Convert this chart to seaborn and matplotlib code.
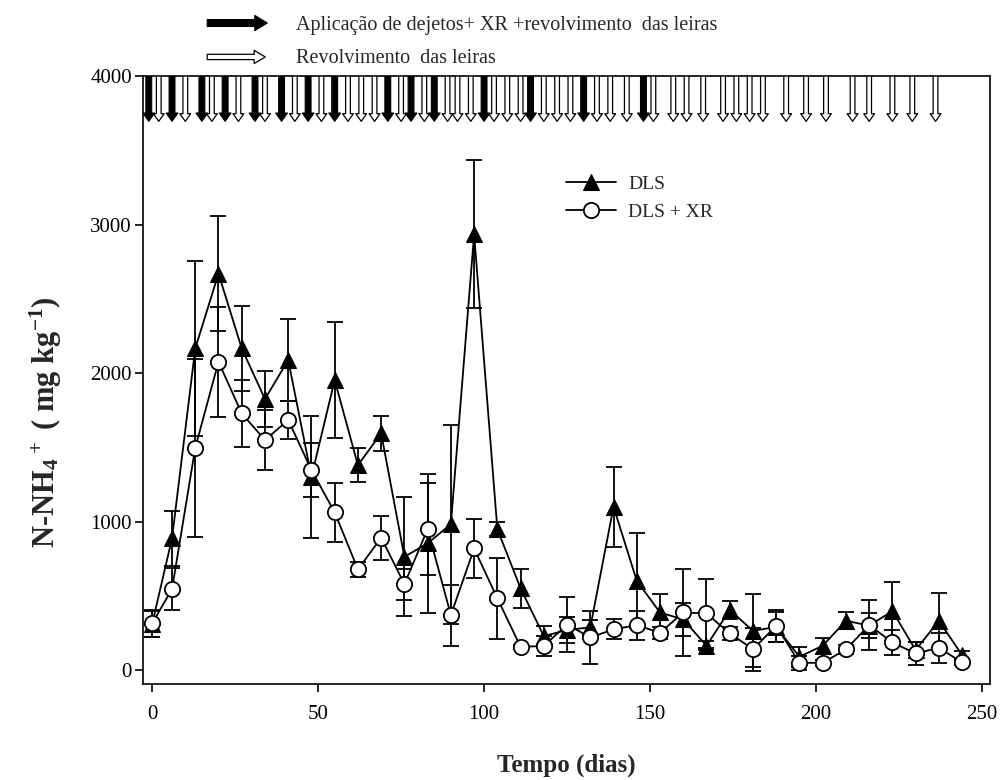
import numpy as np
import pandas as pd
import matplotlib.pyplot as plt
import seaborn as sns
from matplotlib.patches import FancyArrowPatch

# sampling days and N-NH4+ means / errors
days = [0, 6, 13, 20, 27, 34, 41, 48, 55, 62, 69, 76, 83, 90, 97, 104, 111, 118,
        125, 132, 139, 146, 153, 160, 167, 174, 181, 188, 195, 202, 209, 216, 223, 230, 237, 244]
dls = [310, 887, 2166, 2670, 2166, 1825, 2088, 1302, 1953, 1380, 1594, 763, 853, 983, 2935, 949, 550, 229,
       270, 288, 1100, 601, 388, 341, 164, 404, 265, 290, 90, 164, 332, 300, 397, 135, 332, 101]
dls_err = [85, 185, 590, 390, 285, 190, 275, 410, 390, 115, 120, 400, 470, 670, 500, 45, 130, 65,
           85, 50, 270, 320, 124, 110, 30, 60, 245, 100, 67, 55, 57, 85, 198, 56, 184, 30]
dls_xr = [314, 545, 1497, 2076, 1728, 1549, 1684, 1347, 1062, 678, 891, 579, 949, 370, 819, 483, 157, 162,
          307, 220, 274, 303, 251, 388, 382, 247, 141, 298, 49, 49, 139, 303, 186, 112, 150, 52]
dls_xr_err = [90, 140, 600, 370, 225, 205, 130, 180, 200, 50, 148, 105, 310, 205, 196, 275, 15, 70,
              185, 180, 67, 97, 40, 292, 230, 45, 145, 110, 45, 20, 30, 170, 85, 78, 100, 20]

# days of manure application (black arrows) and of pile turning only (white arrows)
aplicacao = [-1, 6, 15, 22, 31, 39, 47, 55, 71, 78, 85, 100, 114, 130, 148]
revolvimento = [2, 10, 18, 26, 34, 43, 51, 59, 63, 67, 75, 82, 89, 92, 96, 103, 107, 111, 118, 122,
                126, 134, 138, 143, 151, 157, 161, 166, 172, 176, 180, 184, 191, 197, 203, 211, 216,
                223, 229, 236]

sns.set_style('ticks')
plt.rcParams['font.family'] = ['Liberation Serif', 'DejaVu Serif']
plt.rcParams['mathtext.fontset'] = 'custom'
plt.rcParams['mathtext.rm'] = 'Liberation Serif:bold'
plt.rcParams['mathtext.bf'] = 'Liberation Serif:bold'
plt.rcParams['mathtext.default'] = 'bf'

df = pd.DataFrame({'dia': days, 'DLS': dls, 'DLS + XR': dls_xr})

fig = plt.figure(figsize=(10.01, 7.8), dpi=100)
ax = fig.add_axes([0.143, 0.123, 0.846, 0.7795])

# error bars first, markers on top
ax.errorbar(df['dia'], df['DLS'], yerr=dls_err, fmt='none', ecolor='black',
            elinewidth=1.3, capsize=6, capthick=1.3, zorder=2)
ax.errorbar(df['dia'], df['DLS + XR'], yerr=dls_xr_err, fmt='none', ecolor='black',
            elinewidth=1.3, capsize=6, capthick=1.3, zorder=2)

sns.lineplot(data=df, x='dia', y='DLS', ax=ax, color='black', lw=1.3, marker='^',
             markersize=11, markerfacecolor='black', markeredgecolor='black',
             label='DLS', zorder=3)
sns.lineplot(data=df, x='dia', y='DLS + XR', ax=ax, color='black', lw=1.3, marker='o',
             markersize=11, markerfacecolor='white', markeredgecolor='black',
             markeredgewidth=1.3, label='DLS + XR', zorder=4)

# event arrows hanging from the top of the plot
for d in aplicacao:
    ax.add_patch(FancyArrowPatch((d, 4000), (d, 3695),
                                 arrowstyle='simple,head_length=0.6,head_width=0.85,tail_width=0.42',
                                 mutation_scale=10, fc='black', ec='black', lw=0.8,
                                 shrinkA=0, shrinkB=0, zorder=5))
for d in revolvimento:
    ax.add_patch(FancyArrowPatch((d, 4000), (d, 3695),
                                 arrowstyle='simple,head_length=0.55,head_width=0.78,tail_width=0.34',
                                 mutation_scale=10, fc='white', ec='black', lw=0.9,
                                 shrinkA=0, shrinkB=0, zorder=5))

ax.set_xlim(-2.7, 252.4)
ax.set_ylim(-94, 4000)
ax.set_xticks([0, 50, 100, 150, 200, 250])
ax.set_yticks([0, 1000, 2000, 3000, 4000])
ax.tick_params(direction='out', length=6, width=1.2, labelsize=15, colors='black')
ax.tick_params(axis='x', pad=9)
ax.tick_params(axis='y', pad=2)
for s in ax.spines.values():
    s.set_linewidth(1.2)
    s.set_color('black')

ax.set_xlabel('Tempo (dias)', fontsize=18, fontweight='bold')
ax.xaxis.set_label_coords(0.5, -0.115)
ax.set_ylabel(r'N-NH$_4$$^+$ ( mg kg$^{-1}$)', fontsize=22, fontweight='bold')
ax.yaxis.set_label_coords(-0.093, 0.43)

ax.legend(loc='upper left', bbox_to_anchor=(0.49, 0.85), frameon=False, fontsize=14,
          handlelength=2.6, handletextpad=0.6, labelspacing=0.55, borderaxespad=0)

# key for the arrows above the plot
fig.patches.append(FancyArrowPatch((0.207, 0.9705), (0.267, 0.9705), transform=fig.transFigure,
                                   arrowstyle='simple,head_length=0.9,head_width=1.1,tail_width=0.5',
                                   mutation_scale=10, fc='black', ec='black', lw=0.8,
                                   shrinkA=0, shrinkB=0))
fig.patches.append(FancyArrowPatch((0.207, 0.927), (0.265, 0.927), transform=fig.transFigure,
                                   arrowstyle='simple,head_length=0.8,head_width=0.95,tail_width=0.38',
                                   mutation_scale=10, fc='white', ec='black', lw=0.9,
                                   shrinkA=0, shrinkB=0))
fig.text(0.2957, 0.967, 'Aplicação de dejetos+ XR +revolvimento  das leiras', fontsize=14.5, va='center')
fig.text(0.2957, 0.925, 'Revolvimento  das leiras', fontsize=14.5, va='center')

fig.savefig('out.png', dpi=100)
